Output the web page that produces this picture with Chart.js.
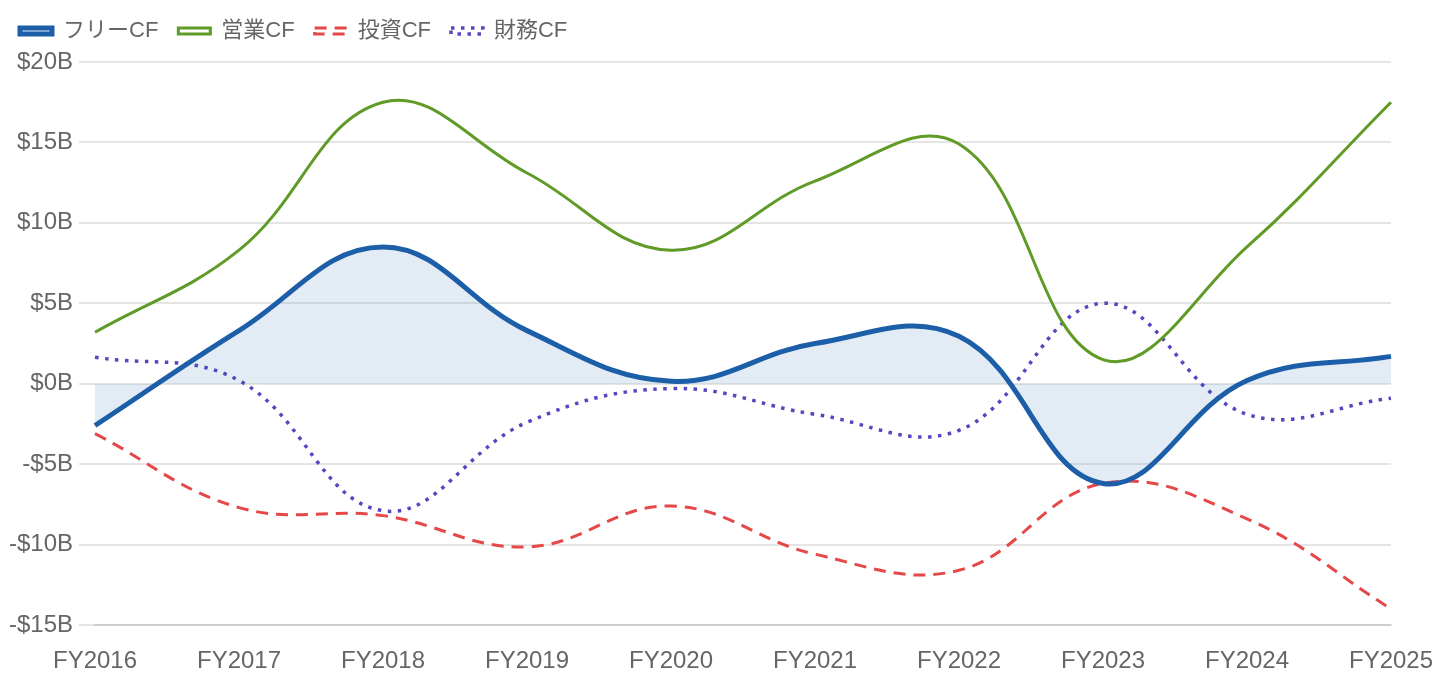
<!DOCTYPE html>
<html>
<head>
<meta charset="utf-8">
<script src="https://cdn.jsdelivr.net/npm/chart.js@4.4.1/dist/chart.umd.min.js"></script>
<style>
html,body{margin:0;padding:0;background:#fff;overflow:hidden}
canvas{display:block}
</style>
</head>
<body>
<canvas id="c" width="720" height="340"></canvas>
<script>
const categories = ['FY2016','FY2017','FY2018','FY2019','FY2020','FY2021','FY2022','FY2023','FY2024','FY2025'];
const freeCF      = [-2.6, 3.3, 8.5, 3.3, 0.15, 2.5, 2.95, -6.2, 0.2, 1.7];
const operatingCF = [3.2, 8.3, 17.5, 13.1, 8.3, 12.6, 14.9, 1.5, 8.5, 17.5];
const investingCF = [-3.1, -7.7, -8.2, -10.15, -7.6, -10.6, -11.6, -6.2, -8.4, -14.0];
const financingCF = [1.65, 0.2, -7.9, -2.4, -0.3, -1.9, -2.9, 5.0, -1.9, -0.9];
const seriesNames = ['フリーCF', '営業CF', '投資CF', '財務CF'];
const yMin = -15, yMax = 20, yStep = 5;

Chart.defaults.font.family = "'Liberation Sans', 'Noto Sans CJK JP', sans-serif";
Chart.defaults.color = '#666';

const canvas = document.getElementById('c');
const chart = new Chart(canvas, {
  type: 'line',
  data: {
    labels: categories,
    datasets: [
      {
        label: seriesNames[0], data: freeCF,
        borderColor: '#1c5fa8', backgroundColor: 'rgba(28,95,168,0.12)',
        borderWidth: 2.5, fill: 'origin', tension: 0.4, pointRadius: 0
      },
      {
        label: seriesNames[1], data: operatingCF,
        borderColor: '#5f9b26', backgroundColor: 'rgba(0,0,0,0)',
        borderWidth: 1.5, fill: false, tension: 0.4, pointRadius: 0
      },
      {
        label: seriesNames[2], data: investingCF,
        borderColor: '#e44848', backgroundColor: 'rgba(0,0,0,0)',
        borderWidth: 1.5, borderDash: [6, 4], fill: false, tension: 0.4, pointRadius: 0
      },
      {
        label: seriesNames[3], data: financingCF,
        borderColor: '#5547bf', backgroundColor: 'rgba(0,0,0,0)',
        borderWidth: 1.75, borderDash: [1.75, 3.25], fill: false, tension: 0.4, pointRadius: 0
      }
    ]
  },
  options: {
    responsive: false,
    devicePixelRatio: 2,
    animation: false,
    layout: { padding: { left: 0, right: 24.5, top: 0, bottom: 0 } },
    plugins: {
      legend: {
        position: 'top',
        align: 'start',
        labels: { font: { size: 11 }, boxWidth: 16, boxHeight: 3, padding: 10 }
      },
      tooltip: { enabled: false }
    },
    scales: {
      x: {
        grid: { display: false },
        border: { display: true },
        ticks: { font: { size: 12 }, maxRotation: 0, autoSkip: false },
        afterFit: (s) => { s.height = 27.5; }
      },
      y: {
        min: yMin, max: yMax,
        grid: { display: true, tickLength: 8 },
        border: { display: false },
        ticks: {
          stepSize: yStep,
          font: { size: 12 },
          callback: (v) => (v < 0 ? '-$' : '$') + Math.abs(v) + 'B'
        },
        afterFit: (s) => { s.width = 47.5; }
      }
    }
  }
});
canvas.style.width = '1440px';
canvas.style.height = '680px';
</script>
</body>
</html>
